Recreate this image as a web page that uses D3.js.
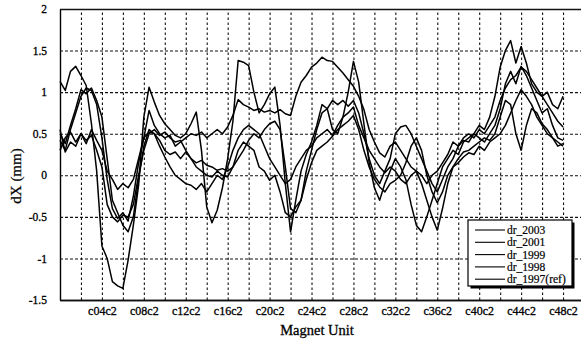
<!DOCTYPE html>
<html>
<head>
<meta charset="utf-8">
<script src="https://cdn.jsdelivr.net/npm/d3@7"></script>
<style>
body { margin: 0; background: #fff; }
svg { display: block; }
svg text { font-family: "Liberation Serif", "Times New Roman", serif !important; }
</style>
</head>
<body>
<div id="chart"></div>
<script>
// samples every half magnet unit, starting at c00
const step = 0.5;

const dr2003 = [
    1.13, 1.02, 1.25, 1.31, 1.2, 1.08, 0.62, 0.05, -0.85, -1.0,
    -1.28, -1.33, -1.36, -1.02, -0.6, -0.12, 0.7, 1.06, 0.88, 0.72,
    0.62, 0.55, 0.48, 0.45, 0.5, 0.62, 0.76, 0.3, -0.38, -0.57,
    -0.42, -0.15, 0.2, 0.65, 1.38, 1.36, 1.32, 1.0, 0.75, 0.85,
    0.98, 1.06, 0.6, -0.1, -0.68, -0.3, 0.05, 0.25, 0.4, 0.6,
    0.85, 0.8, 0.55, 0.5, 0.7, 1.0, 1.37, 1.12, 0.62, 0.15,
    -0.15, -0.3, -0.1, 0.05, 0.2, 0.1, -0.05, -0.35, -0.6, -0.68,
    -0.5, -0.3, -0.1, 0.1, 0.2, 0.3, 0.25, 0.4, 0.45, 0.5,
    0.6, 0.55, 0.7, 0.95, 1.3, 1.5, 1.62, 1.35, 1.55, 1.35,
    1.1, 1.0, 0.95, 1.0, 0.85, 0.8, 0.95
];
const dr2001 = [
    0.42, 0.3, 0.55, 0.75, 0.95, 1.05, 1.02, 0.85, 0.45, -0.05,
    -0.4, -0.52, -0.45, -0.55, -0.25, 0.15, 0.45, 0.78, 0.6, 0.5,
    0.45, 0.48, 0.35, 0.4, 0.45, 0.5, 0.48, 0.52, 0.45, 0.5,
    0.55, 0.5, 0.58, 0.72, 0.91, 0.85, 0.82, 0.78, 0.8, 0.76,
    0.78, 0.75, 0.79, 0.74, 0.72, 0.95, 1.12, 1.2, 1.3, 1.35,
    1.42, 1.38, 1.37, 1.3, 1.23, 1.15, 1.07, 0.95, 0.79, 0.55,
    0.4, 0.27, 0.22, 0.35, 0.4, 0.3, 0.2, 0.1, 0.05, 0.0,
    -0.1, 0.0, 0.05, 0.15, 0.25, 0.4, 0.35, 0.45, 0.5, 0.45,
    0.55, 0.5, 0.6, 0.7, 0.9, 1.05, 1.15, 1.2, 1.3, 1.25,
    1.15, 1.05, 0.95, 0.85, 0.75, 0.65, 0.58
];
const dr1999 = [
    0.5, 0.38, 0.6, 0.8, 1.03, 0.98, 1.05, 0.9, 0.7, 0.2,
    -0.3, -0.45, -0.6, -0.68, -0.5, -0.05, 0.35, 0.55, 0.5, 0.42,
    0.3, 0.25, 0.28, 0.2, 0.28, 0.2, 0.15, 0.18, 0.12, 0.1,
    0.06, 0.08, 0.05, 0.1, 0.2, 0.3, 0.42, 0.5, 0.45, 0.55,
    0.62, 0.65, 0.55, 0.1, -0.4, -0.45, -0.3, 0.05, 0.3, 0.55,
    0.75, 0.8, 0.9, 0.85, 0.9, 0.83, 0.9, 0.75, 0.5, 0.2,
    0.0, -0.1, 0.05, 0.2, 0.5, 0.58, 0.6, 0.5, 0.35, 0.2,
    0.05, -0.1, -0.2, -0.05, 0.1, 0.2, 0.35, 0.42, 0.4, 0.5,
    0.45, 0.4, 0.5, 0.6, 0.8, 1.1, 1.25, 1.1, 1.31, 1.2,
    1.05, 0.9, 0.75, 0.8, 0.6, 0.45, 0.42
];
const dr1998 = [
    0.3, 0.45, 0.52, 0.4, 0.5, 0.38, 0.55, 0.42, 0.3, 0.05,
    -0.05, -0.17, -0.1, -0.15, -0.05, 0.2, 0.45, 0.52, 0.5, 0.35,
    0.22, 0.1, 0.0, -0.05, -0.1, -0.12, -0.17, -0.1, -0.2, -0.1,
    0.0, -0.05, 0.1, 0.3, 0.45, 0.55, 0.6, 0.55, 0.5, 0.35,
    0.2, 0.1, 0.0, -0.1, -0.05, 0.1, 0.2, 0.3, 0.35, 0.45,
    0.5, 0.55, 0.48, 0.6, 0.7, 0.75, 0.82, 0.6, 0.45, 0.3,
    0.2, 0.1, 0.03, 0.1, 0.05, -0.05, -0.1, 0.0, 0.05, -0.1,
    -0.3, -0.5, -0.66, -0.4, -0.1, 0.1, 0.2, 0.28, 0.3, 0.35,
    0.4, 0.45, 0.42, 0.5, 0.7, 0.9, 0.85, 0.5, 0.3, 0.6,
    0.8, 0.75, 0.62, 0.55, 0.45, 0.4, 0.35
];
const dr1997 = [
    0.55, 0.28, 0.4, 0.35, 0.5, 0.42, 0.48, 0.3, 0.1, -0.35,
    -0.5, -0.56, -0.48, -0.5, -0.35, 0.0, 0.3, 0.5, 0.55, 0.48,
    0.52, 0.45, 0.4, 0.42, 0.3, 0.2, 0.1, 0.05, 0.0, -0.02,
    0.05, 0.0, -0.02, 0.1, 0.3, 0.4, 0.35, 0.3, 0.1, 0.05,
    -0.06, 0.0, -0.2, -0.45, -0.5, -0.38, -0.3, -0.05, 0.15, 0.3,
    0.35, 0.4, 0.47, 0.55, 0.6, 0.65, 0.72, 0.55, 0.3, 0.1,
    -0.05, -0.14, -0.2, -0.1, -0.06, 0.0, 0.15, 0.35, 0.45, 0.3,
    0.0, -0.2, -0.33, -0.2, 0.0, 0.1, 0.15, 0.22, 0.27, 0.25,
    0.35, 0.3, 0.4, 0.45, 0.5, 0.6, 0.75, 0.9, 1.03, 0.95,
    0.85, 0.7, 0.6, 0.5, 0.45, 0.35, 0.38
];

const seriesNames = ['dr_2003', 'dr_2001', 'dr_1999', 'dr_1998', 'dr_1997(ref)'];
const seriesValues = [dr2003, dr2001, dr1999, dr1998, dr1997];

const tickUnits = [4, 8, 12, 16, 20, 24, 28, 32, 36, 40, 44, 48];
const tickLabels = ['c04c2', 'c08c2', 'c12c2', 'c16c2', 'c20c2', 'c24c2',
    'c28c2', 'c32c2', 'c36c2', 'c40c2', 'c44c2', 'c48c2'];
const gridUnits = [2, 4, 6, 8, 10, 12, 14, 16, 18, 20, 22, 24, 26, 28, 30, 32, 34, 36, 38, 40, 42, 44, 46, 48];
const yTicks = [-1.5, -1, -0.5, 0, 0.5, 1, 1.5, 2];

const dimensions = {
    width: 581,
    height: 342,
    left: 60,
    top: 9,
    right: 584,
    bottom: 300
}

const xScale = d3.scaleLinear()
    .domain([0, 50])
    .range([dimensions.left, dimensions.right])

const yScale = d3.scaleLinear()
    .domain([-1.5, 2])
    .range([dimensions.bottom, dimensions.top])

const svg = d3.select('#chart')
    .append('svg')
    .attr('width', dimensions.width)
    .attr('height', dimensions.height)

// x gridlines + labels
const xAxis = d3.axisBottom(xScale)
    .tickValues(gridUnits)
    .tickSize(-(dimensions.bottom - dimensions.top))
    .tickSizeOuter(0)
    .tickPadding(6)
    .tickFormat(d => {
        const i = tickUnits.indexOf(d);
        return i >= 0 ? tickLabels[i] : '';
    })

const xAxisGroup = svg.append('g')
    .attr('transform', `translate(0, ${dimensions.bottom})`)
    .call(xAxis)

xAxisGroup.selectAll('.tick line')
    .attr('stroke', '#111')
    .attr('stroke-width', 1.1)
    .attr('stroke-dasharray', '2.5,2.5')
xAxisGroup.select('.domain').attr('stroke', '#000').attr('stroke-width', 1.4)
xAxisGroup.selectAll('.tick text')
    .attr('fill', '#000')
    .attr('stroke', '#000')
    .attr('stroke-width', 0.3)
    .style('font-size', '12px')

// y gridlines + labels
const yAxis = d3.axisLeft(yScale)
    .tickValues(yTicks)
    .tickSize(-(dimensions.right - dimensions.left))
    .tickSizeOuter(0)
    .tickPadding(13)
    .tickFormat(d => d)

const yAxisGroup = svg.append('g')
    .attr('transform', `translate(${dimensions.left}, 0)`)
    .call(yAxis)

yAxisGroup.selectAll('.tick line')
    .attr('stroke', '#111')
    .attr('stroke-dasharray', d => (d === 2 || d === -1.5) ? null : '3,2')
    .attr('stroke-width', d => (d === 2 || d === -1.5) ? 1.4 : 1.1)
yAxisGroup.select('.domain').attr('stroke', '#000').attr('stroke-width', 1.4)
yAxisGroup.selectAll('.tick text')
    .attr('fill', '#000')
    .attr('stroke', '#000')
    .attr('stroke-width', 0.3)
    .style('font-size', '11.5px')

// series
const line = d3.line()
    .x((d, i) => xScale(i * step))
    .y(d => yScale(d))

svg.append('g')
    .selectAll('path')
    .data(seriesValues)
    .join('path')
    .attr('d', line)
    .attr('fill', 'none')
    .attr('stroke', '#000')
    .attr('stroke-width', 1.5)
    .attr('stroke-linejoin', 'round')

// axis titles
svg.append('text')
    .attr('x', 317)
    .attr('y', 335)
    .attr('text-anchor', 'middle')
    .attr('stroke', '#000')
    .attr('stroke-width', 0.3)
    .style('font-size', '14.5px')
    .text('Magnet Unit')

svg.append('text')
    .attr('transform', 'translate(21, 176) rotate(-90)')
    .attr('text-anchor', 'middle')
    .attr('stroke', '#000')
    .attr('stroke-width', 0.25)
    .style('font-size', '15px')
    .text('dX (mm)')

// legend
const legend = svg.append('g')
    .attr('transform', 'translate(468, 220)')

legend.append('rect')
    .attr('x', 2.5).attr('y', 2.5)
    .attr('width', 104).attr('height', 66)
    .attr('fill', '#000')

legend.append('rect')
    .attr('width', 104).attr('height', 66)
    .attr('fill', '#fff')
    .attr('stroke', '#000')
    .attr('stroke-width', 1.2)

const items = legend.selectAll('.item')
    .data(seriesNames)
    .join('g')
    .attr('class', 'item')
    .attr('transform', (d, i) => `translate(0, ${10 + i * 12.3})`)

items.append('line')
    .attr('x1', 7).attr('x2', 37)
    .attr('stroke', '#000')
    .attr('stroke-width', 1.1)

items.append('text')
    .attr('x', 39)
    .attr('y', 4)
    .attr('stroke', '#000')
    .attr('stroke-width', 0.2)
    .style('font-size', '11.5px')
    .text(d => d)
</script>
</body>
</html>
